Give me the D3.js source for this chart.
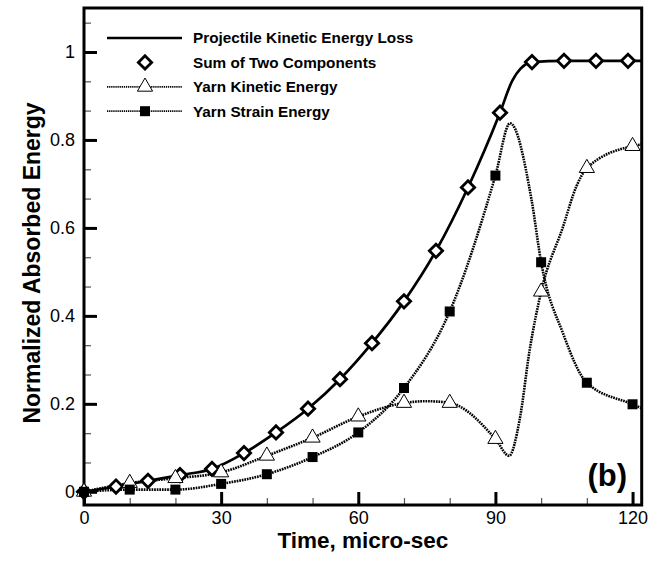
<!DOCTYPE html>
<html>
<head>
<meta charset="utf-8">
<script src="https://cdn.jsdelivr.net/npm/d3@7"></script>
<style>
  body { margin: 0; background: #fff; }
  svg { display: block; font-family: "Liberation Sans", Arial, sans-serif; }
</style>
</head>
<body>
<div id="chart"></div>
<script>
// values
const sumTime = [0, 7, 14, 21, 28, 35, 42, 49, 56, 63, 70, 77, 84, 91, 98, 105, 112, 119];
const sumValue = [0, 0.012, 0.025, 0.038, 0.052, 0.088, 0.135, 0.189, 0.256, 0.338, 0.433, 0.548, 0.692, 0.862, 0.977, 0.98, 0.98, 0.98];

const projectileTime = [0, 7, 14, 21, 28, 35, 42, 49, 56, 63, 70, 77, 84, 91, 93.7, 95.5, 98, 105, 112, 122];
const projectileValue = [0, 0.012, 0.025, 0.038, 0.052, 0.088, 0.135, 0.189, 0.256, 0.338, 0.433, 0.548, 0.692, 0.862, 0.935, 0.962, 0.977, 0.98, 0.98, 0.98];

const kineticTime = [0, 10, 20, 30, 40, 50, 60, 70, 80, 90, 100, 110, 120];
const kineticValue = [0, 0.02, 0.031, 0.044, 0.082, 0.123, 0.171, 0.202, 0.202, 0.12, 0.455, 0.736, 0.786];
const kineticLineTime = [0, 10, 20, 30, 40, 50, 60, 70, 75, 80, 90, 93, 95.3, 97.5, 100, 104.8, 107.7, 110, 120, 122];
const kineticLineValue = [0, 0.02, 0.031, 0.044, 0.082, 0.123, 0.171, 0.202, 0.206, 0.202, 0.12, 0.082, 0.164, 0.323, 0.455, 0.603, 0.694, 0.736, 0.786, 0.79];

const strainTime = [0, 10, 20, 30, 40, 50, 60, 70, 80, 90, 100, 110, 120];
const strainValue = [0, 0.005, 0.005, 0.018, 0.04, 0.079, 0.135, 0.236, 0.41, 0.719, 0.522, 0.248, 0.199];
const strainLineTime = [0, 10, 20, 30, 40, 50, 60, 70, 80, 90, 93.2, 97.9, 100, 104.8, 110, 120, 122];
const strainLineValue = [0, 0.005, 0.005, 0.018, 0.04, 0.079, 0.135, 0.236, 0.41, 0.719, 0.838, 0.664, 0.522, 0.36, 0.248, 0.199, 0.19];

const xMajorTicks = [0, 30, 60, 90, 120];
const xMinorTicks = [10, 20, 40, 50, 70, 80, 100, 110];
const yMajorTicks = [0, 0.2, 0.4, 0.6, 0.8, 1];
const yMinorTicks = [0.0667, 0.1333, 0.2667, 0.3333, 0.4667, 0.5333, 0.6667, 0.7333, 0.8667, 0.9333, 1.0667];

const legendLabels = ['Projectile Kinetic Energy Loss', 'Sum of Two Components', 'Yarn Kinetic Energy', 'Yarn Strain Energy'];

const W = 660, H = 561;
const DOTS = '1.7,0.9';

const svg = d3.select('#chart').append('svg')
  .attr('width', W)
  .attr('height', H);

const x = d3.scaleLinear().domain([0, 122]).range([84, 641.7]);
const y = d3.scaleLinear().domain([-0.03, 1.1]).range([505, 8]);

const fmt = d3.format('~g');

// minor ticks
svg.append('g')
  .attr('transform', `translate(0, ${y(-0.03)})`)
  .call(d3.axisBottom(x).tickValues(xMinorTicks).tickSizeInner(-7).tickSizeOuter(0).tickFormat(''))
  .call(g => g.select('.domain').remove())
  .call(g => g.selectAll('line').attr('stroke', '#555').attr('stroke-width', 1.2));

svg.append('g')
  .attr('transform', `translate(${x(0)}, 0)`)
  .call(d3.axisLeft(y).tickValues(yMinorTicks).tickSizeInner(-7).tickSizeOuter(0).tickFormat(''))
  .call(g => g.select('.domain').remove())
  .call(g => g.selectAll('line').attr('stroke', '#555').attr('stroke-width', 1.2));

// major ticks + labels
svg.append('g')
  .attr('transform', `translate(0, ${y(-0.03)})`)
  .call(d3.axisBottom(x).tickValues(xMajorTicks).tickSizeInner(-13).tickSizeOuter(0).tickPadding(6).tickFormat(fmt))
  .call(g => g.select('.domain').remove())
  .call(g => g.selectAll('line').attr('stroke', '#000').attr('stroke-width', 3))
  .call(g => g.selectAll('text').attr('font-size', 18).attr('fill', '#000').attr('font-family', null));

svg.append('g')
  .attr('transform', `translate(${x(0)}, 0)`)
  .call(d3.axisLeft(y).tickValues(yMajorTicks).tickSizeInner(-13).tickSizeOuter(0).tickPadding(9).tickFormat(fmt))
  .call(g => g.select('.domain').remove())
  .call(g => g.selectAll('line').attr('stroke', '#000').attr('stroke-width', 3))
  .call(g => g.selectAll('text').attr('font-size', 18).attr('fill', '#000').attr('font-family', null));

// lines
svg.append('clipPath').attr('id', 'plot-clip')
  .append('rect')
  .attr('x', x(0)).attr('y', y(1.1))
  .attr('width', x(122) - x(0)).attr('height', y(-0.03) - y(1.1));

const lines = svg.append('g').attr('clip-path', 'url(#plot-clip)');
const line = d3.line().x(d => x(d[0])).y(d => y(d[1])).curve(d3.curveMonotoneX);

lines.append('path')
  .attr('d', line(d3.zip(kineticLineTime, kineticLineValue)))
  .attr('fill', 'none').attr('stroke', '#000').attr('stroke-width', 2.6).attr('stroke-dasharray', DOTS);

lines.append('path')
  .attr('d', line(d3.zip(strainLineTime, strainLineValue)))
  .attr('fill', 'none').attr('stroke', '#000').attr('stroke-width', 2.6).attr('stroke-dasharray', DOTS);

lines.append('path')
  .attr('d', line(d3.zip(projectileTime, projectileValue)))
  .attr('fill', 'none').attr('stroke', '#000').attr('stroke-width', 2.7);

// frame
svg.append('rect')
  .attr('x', x(0)).attr('y', y(1.1))
  .attr('width', x(122) - x(0)).attr('height', y(-0.03) - y(1.1))
  .attr('fill', 'none').attr('stroke', '#000').attr('stroke-width', 3);

// markers
const diamond = d3.symbol().type(d3.symbolSquare).size(88)();
const triangle = d3.symbol().type(d3.symbolTriangle).size(100)();
const square = d3.symbol().type(d3.symbolSquare).size(100)();

svg.append('g').selectAll('path')
  .data(d3.zip(sumTime, sumValue))
  .join('path')
  .attr('d', diamond)
  .attr('transform', d => `translate(${x(d[0])}, ${y(d[1])}) rotate(45)`)
  .attr('fill', '#fff').attr('stroke', '#000').attr('stroke-width', 2.8);

svg.append('g').selectAll('path')
  .data(d3.zip(kineticTime, kineticValue))
  .join('path')
  .attr('d', triangle)
  .attr('transform', d => `translate(${x(d[0])}, ${y(d[1])})`)
  .attr('fill', '#fff').attr('stroke', '#000').attr('stroke-width', 1);

svg.append('g').selectAll('path')
  .data(d3.zip(strainTime, strainValue))
  .join('path')
  .attr('d', square)
  .attr('transform', d => `translate(${x(d[0])}, ${y(d[1])})`)
  .attr('fill', '#000');

// legend
const legend = svg.append('g').attr('transform', 'translate(107, 38)');
const rowGap = 24.4;
legendLabels.forEach((label, i) => {
  const row = legend.append('g').attr('transform', `translate(0, ${i * rowGap})`);
  if (i === 0) {
    row.append('line').attr('x1', 0).attr('x2', 75).attr('stroke', '#000').attr('stroke-width', 2.7);
  } else if (i > 1) {
    row.append('line').attr('x1', 0).attr('x2', 75).attr('stroke', '#000').attr('stroke-width', 1.7).attr('stroke-dasharray', '1.3,0.8');
  }
  if (i === 1) {
    row.append('path').attr('d', diamond).attr('transform', 'translate(38, 0) rotate(45)')
      .attr('fill', '#fff').attr('stroke', '#000').attr('stroke-width', 2.8);
  } else if (i === 2) {
    row.append('path').attr('d', triangle).attr('transform', 'translate(38, 0)')
      .attr('fill', '#fff').attr('stroke', '#000').attr('stroke-width', 1);
  } else if (i === 3) {
    row.append('path').attr('d', square).attr('transform', 'translate(38, 0)').attr('fill', '#000');
  }
  row.append('text')
    .attr('x', 86).attr('dy', '0.35em')
    .attr('font-size', 15.3).attr('font-weight', 'bold')
    .text(label);
});

// titles
svg.append('text')
  .attr('x', (x(0) + x(122)) / 2).attr('y', 548)
  .attr('text-anchor', 'middle')
  .attr('font-size', 22.5).attr('font-weight', 'bold')
  .text('Time, micro-sec');

svg.append('text')
  .attr('transform', `translate(40, 263) rotate(-90)`)
  .attr('text-anchor', 'middle')
  .attr('font-size', 23).attr('font-weight', 'bold')
  .text('Normalized Absorbed Energy');

svg.append('text')
  .attr('x', 627).attr('y', 486)
  .attr('text-anchor', 'end')
  .attr('font-size', 31).attr('font-weight', 'bold')
  .text('(b)');
</script>
</body>
</html>
